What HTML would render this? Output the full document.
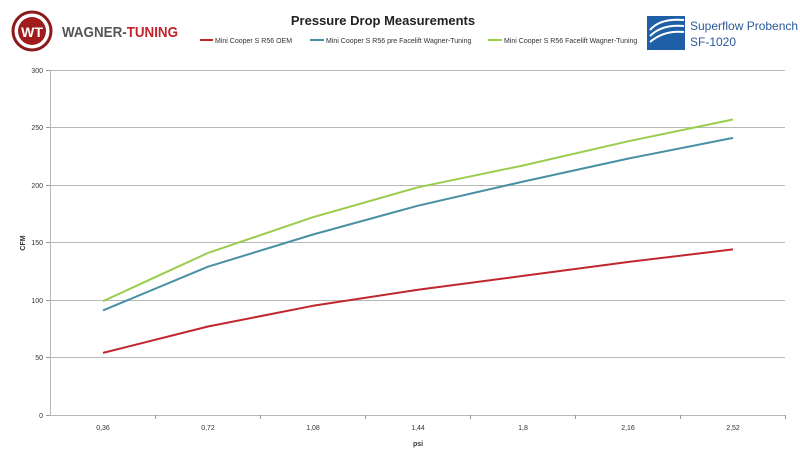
<!DOCTYPE html>
<html><head><meta charset="utf-8"><style>
body{margin:0;background:#fff;}
svg text{font-family:"Liberation Sans",sans-serif;}
</style></head><body>
<svg width="800" height="458" viewBox="0 0 800 458" xmlns="http://www.w3.org/2000/svg">
<rect width="800" height="458" fill="#fff"/>
<circle cx="32" cy="31" r="19" fill="#fff" stroke="#8b1a1a" stroke-width="3"/>
<circle cx="32" cy="31" r="14" fill="#a01c1c"/>
<text x="32" y="37" font-size="14" font-weight="bold" fill="#fff" text-anchor="middle">WT</text>
<text x="62" y="37" font-size="15" font-weight="bold" fill="#555" textLength="116" lengthAdjust="spacingAndGlyphs">WAGNER-<tspan fill="#c0232b">TUNING</tspan></text>
<text x="383" y="25" font-size="13" font-weight="bold" fill="#222" text-anchor="middle">Pressure Drop Measurements</text>
<line x1="200" y1="40" x2="213" y2="40" stroke="#c0272d" stroke-width="2"/>
<text x="215" y="43" font-size="7" fill="#333">Mini Cooper S R56 OEM</text>
<line x1="310" y1="40" x2="324" y2="40" stroke="#4a90a4" stroke-width="2"/>
<text x="326" y="43" font-size="7" fill="#333">Mini Cooper S R56 pre Facelift Wagner-Tuning</text>
<line x1="488" y1="40" x2="502" y2="40" stroke="#9acd4e" stroke-width="2"/>
<text x="504" y="43" font-size="7" fill="#333">Mini Cooper S R56 Facelift Wagner-Tuning</text>
<rect x="647" y="16" width="38" height="34" fill="#1f5fa8"/>
<path d="M650 30 q10 -12 34 -10 M650 36 q12 -12 34 -10 M650 42 q14 -12 34 -10" stroke="#fff" stroke-width="2" fill="none"/>
<text x="690" y="30" font-size="12" fill="#2a5a9a">Superflow Probench</text>
<text x="690" y="46" font-size="12" fill="#2a5a9a">SF-1020</text>
<g stroke="#b8b8b8" stroke-width="1">
<line x1="50" y1="70.5" x2="785" y2="70.5"/>
<line x1="50" y1="127.5" x2="785" y2="127.5"/>
<line x1="50" y1="185.5" x2="785" y2="185.5"/>
<line x1="50" y1="242.5" x2="785" y2="242.5"/>
<line x1="50" y1="300.5" x2="785" y2="300.5"/>
<line x1="50" y1="357.5" x2="785" y2="357.5"/>
<line x1="50" y1="415.5" x2="785" y2="415.5"/>
<line x1="50.5" y1="70" x2="50.5" y2="415"/>
</g>
<g stroke="#999" stroke-width="1">
<line x1="46" y1="70.5" x2="50" y2="70.5"/><line x1="46" y1="127.5" x2="50" y2="127.5"/><line x1="46" y1="185.5" x2="50" y2="185.5"/><line x1="46" y1="242.5" x2="50" y2="242.5"/><line x1="46" y1="300.5" x2="50" y2="300.5"/><line x1="46" y1="357.5" x2="50" y2="357.5"/><line x1="46" y1="415.5" x2="50" y2="415.5"/>
<line x1="155.5" y1="415" x2="155.5" y2="419"/><line x1="260.5" y1="415" x2="260.5" y2="419"/><line x1="365.5" y1="415" x2="365.5" y2="419"/><line x1="470.5" y1="415" x2="470.5" y2="419"/><line x1="575.5" y1="415" x2="575.5" y2="419"/><line x1="680.5" y1="415" x2="680.5" y2="419"/><line x1="785.5" y1="415" x2="785.5" y2="419"/>
</g>
<g font-size="7" fill="#333" text-anchor="end">
<text x="43" y="73">300</text><text x="43" y="130">250</text><text x="43" y="188">200</text><text x="43" y="245">150</text><text x="43" y="303">100</text><text x="43" y="360">50</text><text x="43" y="418">0</text>
</g>
<g font-size="7" fill="#333" text-anchor="middle">
<text x="103" y="430">0,36</text><text x="208" y="430">0,72</text><text x="313" y="430">1,08</text><text x="418" y="430">1,44</text><text x="523" y="430">1,8</text><text x="628" y="430">2,16</text><text x="733" y="430">2,52</text>
<text x="418" y="446" font-weight="bold">psi</text>
</g>
<text x="0" y="0" font-size="7" font-weight="bold" fill="#333" text-anchor="middle" transform="translate(25,243) rotate(-90)">CFM</text>
<g fill="none" stroke-width="2" stroke-linejoin="round">
<polyline stroke="#c0272d" points="103,352.9 208,326.5 313,305.8 418,289.7 523,275.9 628,262 733,249.4"/>
<polyline stroke="#4a90a4" points="103,310.4 208,266.7 313,234.5 418,205.7 523,181.6 628,158.6 733,137.9"/>
<polyline stroke="#9acd4e" points="103,301.2 208,252.9 313,217.2 418,187.3 523,165.5 628,141.3 733,119.5"/>
</g>
</svg>
</body></html>
